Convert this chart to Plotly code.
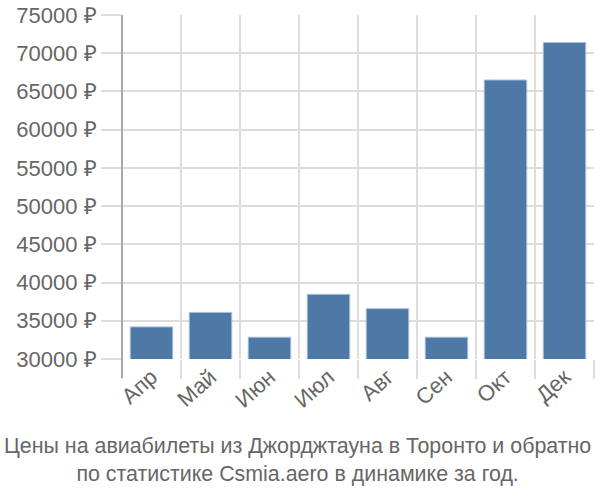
import plotly.graph_objects as go

months = ["Апр", "Май", "Июн", "Июл", "Авг", "Сен", "Окт", "Дек"]
prices = [34200, 36090, 32850, 38460, 36580, 32850, 66500, 71400]
y_ticks = [30000, 35000, 40000, 45000, 50000, 55000, 60000, 65000, 70000, 75000]
y_labels = [f"{v} ₽" for v in y_ticks]
title_lines = ["Цены на авиабилеты из Джорджтауна в Торонто и обратно",
               "по статистике Csmia.aero в динамике за год."]

grid = "#dddddd"
txt = "#666666"

fig = go.Figure(go.Bar(
    x=months, y=prices,
    marker=dict(color="#4e79a7", line=dict(color="#a9bfd8", width=1)),
    width=0.72,
))

fig.update_layout(
    width=600, height=500,
    margin=dict(l=122, r=6, t=15, b=141),
    paper_bgcolor="white", plot_bgcolor="white",
    font=dict(family="Liberation Sans, Arial", size=22, color=txt),
    showlegend=False,
    annotations=[dict(
        text="<br>".join(title_lines), xref="paper", yref="paper",
        x=0.5, xanchor="center", y=-0.212, yanchor="top", xshift=-61,
        showarrow=False, font=dict(size=21.4, color=txt), align="center",
    )],
    shapes=[dict(type="line", xref="paper", yref="paper", x0=0, x1=0,
                 y0=-19/344, y1=1, line=dict(color="#aaaaaa", width=2))],
)
fig.update_xaxes(
    tickangle=-42, tickson="boundaries", showgrid=True, gridcolor=grid, gridwidth=2,
    ticks="outside", ticklen=19, tickcolor=grid, tickwidth=2,
    showline=False, range=[-0.5, 7.5], automargin=False,
)
fig.update_yaxes(
    range=[30000, 75000], tickvals=y_ticks, ticktext=y_labels,
    showgrid=True, gridcolor=grid, gridwidth=2,
    ticks="outside", ticklen=20, tickcolor=grid, tickwidth=2,
    showline=False, zeroline=False, automargin=False,
)

fig.write_html("out.html")
